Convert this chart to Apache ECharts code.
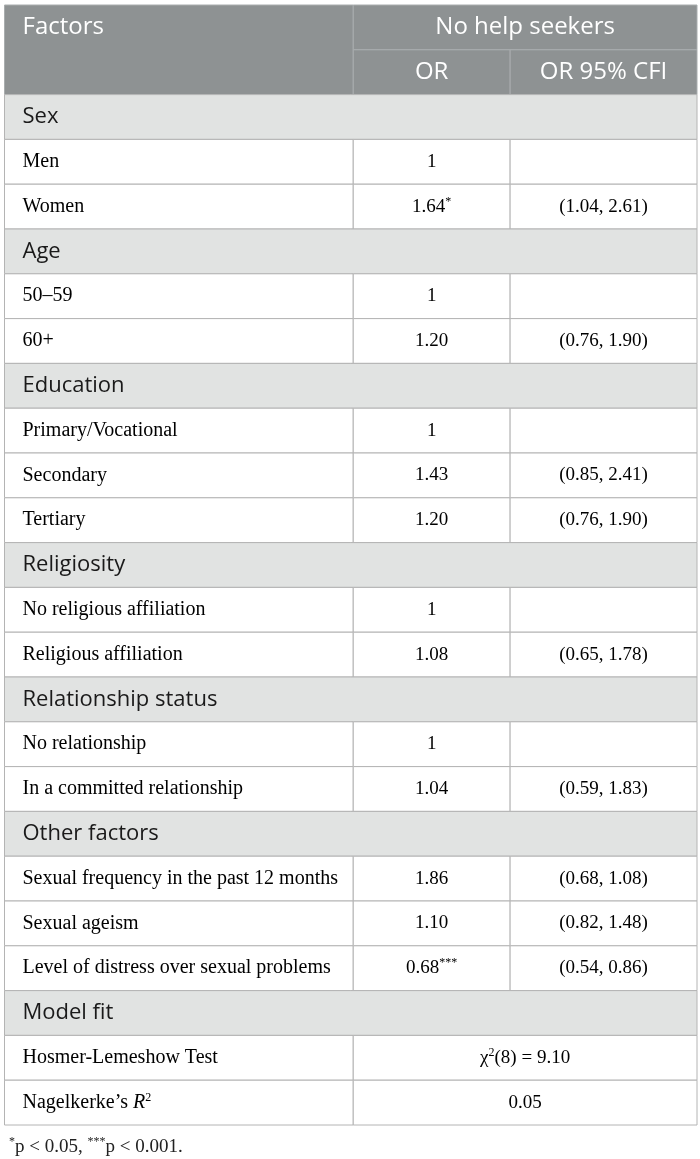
<!DOCTYPE html>
<html>
<head>
<meta charset="utf-8">
<script src="https://cdn.jsdelivr.net/npm/echarts@6/dist/echarts.min.js"></script>
<style>
  html, body { margin: 0; padding: 0; background: #fff; }
  #chart { width: 700px; height: 1159px; }
</style>
</head>
<body>
<div id="chart"></div>
<script>
// table content
const sections = ['Sex', 'Age', 'Education', 'Religiosity', 'Relationship status', 'Other factors'];
const factors = [
  ['Men', 'Women'],
  ['50–59', '60+'],
  ['Primary/Vocational', 'Secondary', 'Tertiary'],
  ['No religious affiliation', 'Religious affiliation'],
  ['No relationship', 'In a committed relationship'],
  ['Sexual frequency in the past 12 months', 'Sexual ageism', 'Level of distress over sexual problems']
];
const oddsRatios = [[1, 1.64], [1, 1.20], [1, 1.43, 1.20], [1, 1.08], [1, 1.04], [1.86, 1.10, 0.68]];
const stars = [['', '*'], ['', ''], ['', '', ''], ['', ''], ['', ''], ['', '', '***']];
const ciLow = [[null, 1.04], [null, 0.76], [null, 0.85, 0.76], [null, 0.65], [null, 0.59], [0.68, 0.82, 0.54]];
const ciHigh = [[null, 2.61], [null, 1.90], [null, 2.41, 1.90], [null, 1.78], [null, 1.83], [1.08, 1.48, 0.86]];
const fitLabels = ['Hosmer-Lemeshow Test', 'Nagelkerke’s '];
const chiDf = 8;
const chiValue = 9.10;
const r2Value = 0.05;

// column edges in x-axis units
const colEdges = [0, 349, 506, 693];

const HEAD_BG = '#8e9293', BAND_BG = '#e1e3e2', LINE = '#b4b4b4';
const SANS = '"Open Sans", sans-serif', SERIF = '"Liberation Serif", serif';

function fmtOR(v) { return v === 1 ? '1' : v.toFixed(2); }

const rows = [{ kind: 'head1' }, { kind: 'head2' }];
sections.forEach((s, i) => {
  rows.push({ kind: 'section', label: s });
  factors[i].forEach((f, j) => {
    rows.push({
      kind: 'factor', label: '{l|' + f + '}',
      or: '{t|' + fmtOR(oddsRatios[i][j]) + '}' + (stars[i][j] ? '{s|' + stars[i][j] + '}' : ''),
      ci: ciLow[i][j] == null ? '' : '{t|(' + ciLow[i][j].toFixed(2) + ', ' + ciHigh[i][j].toFixed(2) + ')}'
    });
  });
});
rows.push({ kind: 'section', label: 'Model fit' });
rows.push({ kind: 'fit', label: '{l|' + fitLabels[0] + '}', value: '{t|χ}{s|2}{t|(' + chiDf + ') = ' + chiValue.toFixed(2) + '}' });
rows.push({ kind: 'fit', label: '{l|' + fitLabels[1] + '}{i|R}{s|2}', value: '{t|' + r2Value.toFixed(2) + '}' });

const serifRich = {
  l: { fontFamily: SERIF, fontSize: 20, color: '#222', lineHeight: 22, fontWeight: 'normal' },
  t: { fontFamily: SERIF, fontSize: 19, color: '#222', lineHeight: 22, fontWeight: 'normal' },
  i: { fontFamily: SERIF, fontSize: 20, color: '#222', lineHeight: 22, fontStyle: 'italic', fontWeight: 'normal' },
  s: { fontFamily: SERIF, fontSize: 12, color: '#222', lineHeight: 12, verticalAlign: 'top', fontWeight: 'normal' }
};

function renderItem(params, api) {
  const r = rows[params.dataIndex];
  const idx = api.value(1);
  const xs = colEdges.map(x => api.coord([x, idx])[0]);
  const y0 = api.coord([0, idx])[1];
  const y1 = api.coord([0, idx + 1])[1];
  const h = y1 - y0;
  const cy = y0 + h / 2;
  const kids = [];
  const box = (xa, xb, ya, yb, fill, stroke) => kids.push({
    type: 'rect', shape: { x: xa, y: ya, width: xb - xa, height: yb - ya },
    style: { fill: fill, stroke: stroke, lineWidth: 1 }
  });
  const txt = (x, text, align, style) => kids.push({
    type: 'text', x: x, y: cy,
    style: Object.assign({ text: text, align: align, verticalAlign: 'middle' }, style)
  });
  const headStyle = { fill: '#fff', fontFamily: SANS, fontSize: 24 };
  const bodyStyle = { rich: serifRich };
  const padL = 18;

  if (r.kind === 'head1') {
    box(xs[0], xs[1], y0, y0 + 2 * h, HEAD_BG, '#a9adae');
    box(xs[1], xs[3], y0, y1, HEAD_BG, '#a9adae');
    txt(xs[0] + padL, 'Factors', 'left', headStyle);
    txt((xs[1] + xs[3]) / 2, 'No help seekers', 'center', headStyle);
  } else if (r.kind === 'head2') {
    box(xs[1], xs[2], y0, y1, HEAD_BG, '#a9adae');
    box(xs[2], xs[3], y0, y1, HEAD_BG, '#a9adae');
    txt((xs[1] + xs[2]) / 2, 'OR', 'center', headStyle);
    txt((xs[2] + xs[3]) / 2, 'OR 95% CFI', 'center', headStyle);
  } else if (r.kind === 'section') {
    box(xs[0], xs[3], y0, y1, BAND_BG, LINE);
    txt(xs[0] + padL, r.label, 'left', { fill: '#1a1a1a', fontFamily: SANS, fontSize: 22 });
  } else if (r.kind === 'factor') {
    box(xs[0], xs[1], y0, y1, '#fff', LINE);
    box(xs[1], xs[2], y0, y1, '#fff', LINE);
    box(xs[2], xs[3], y0, y1, '#fff', LINE);
    txt(xs[0] + padL, r.label, 'left', bodyStyle);
    txt((xs[1] + xs[2]) / 2, r.or, 'center', bodyStyle);
    if (r.ci) txt((xs[2] + xs[3]) / 2, r.ci, 'center', bodyStyle);
  } else {
    box(xs[0], xs[1], y0, y1, '#fff', LINE);
    box(xs[1], xs[3], y0, y1, '#fff', LINE);
    txt(xs[0] + padL, r.label, 'left', bodyStyle);
    txt((xs[1] + xs[3]) / 2, r.value, 'center', bodyStyle);
  }
  return { type: 'group', children: kids };
}

const chart = echarts.init(document.getElementById('chart'), null, { renderer: 'canvas' });
chart.setOption({
  animation: false,
  title: {
    left: 4, top: 1131,
    text: '{s|*}{t|p < 0.05, }{s|***}{t|p < 0.001.}',
    textStyle: { fontWeight: 'normal', rich: serifRich }
  },
  grid: { left: 4.5, top: 5, width: 692.5, height: 1120 },
  xAxis: { type: 'value', min: colEdges[0], max: colEdges[3], show: false },
  yAxis: { type: 'value', min: 0, max: rows.length, inverse: true, show: false },
  series: [{
    type: 'custom',
    renderItem: renderItem,
    clip: false,
    encode: { x: 0, y: 1 },
    data: rows.map((r, i) => [0, i])
  }]
});
</script>
</body>
</html>
